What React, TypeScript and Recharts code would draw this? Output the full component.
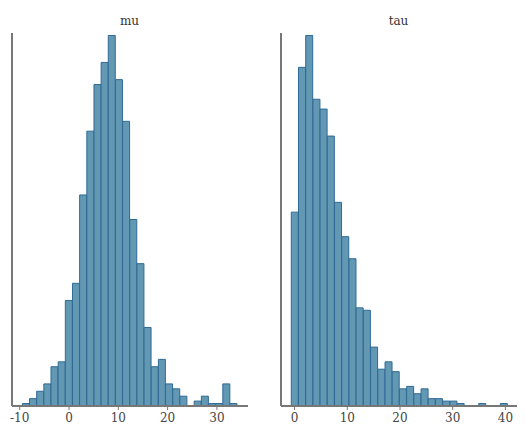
import { BarChart, Bar, XAxis, YAxis } from "recharts";

// bin centres and counts (30 bins per panel)
const muBins = [-8.73, -7.28, -5.83, -4.38, -2.93, -1.47, -0.02, 1.43, 2.88, 4.34, 5.79, 7.24, 8.69, 10.14, 11.59, 13.05, 14.5, 15.95, 17.4, 18.85, 20.31, 21.76, 23.21, 24.66, 26.11, 27.57, 29.02, 30.47, 31.92, 33.37];
const muCounts = [1, 3, 6, 9, 16, 18, 43, 50, 86, 112, 131, 140, 151, 133, 116, 76, 58, 32, 16, 19, 9, 7, 4, 0, 2, 4, 1, 1, 9, 1];

const tauBins = [0.05, 1.42, 2.79, 4.16, 5.52, 6.89, 8.26, 9.63, 11.0, 12.36, 13.73, 15.1, 16.47, 17.84, 19.2, 20.57, 21.94, 23.31, 24.68, 26.04, 27.41, 28.78, 30.15, 31.52, 32.88, 34.25, 35.62, 36.99, 38.36, 39.72];
const tauCounts = [79, 138, 151, 125, 121, 110, 83, 69, 60, 40, 39, 24, 15, 18, 14, 7, 8, 5, 7, 3, 3, 2, 2, 1, 0, 0, 1, 0, 0, 1];

const muTicks = [-10, 0, 10, 20, 30];
const tauTicks = [0, 10, 20, 30, 40];

const muDomain: [number, number] = [-11.56, 36.3];
const tauDomain: [number, number] = [-2.58, 42.2];

const FONT = "DejaVu Serif, Liberation Serif, serif";
const AXIS = "#777";
const FILL = "#6398b3";
const EDGE = "#2f6a96";

interface PanelProps {
  title: string;
  bins: number[];
  counts: number[];
  ticks: number[];
  domain: [number, number];
  left: number;
  width: number;
  margin: { top: number; right: number; left: number; bottom: number };
}

function Panel({ title, bins, counts, ticks, domain, left, width, margin }: PanelProps) {
  const data = bins.map((b, i) => ({ mid: b, count: counts[i] }));
  const plotCenter = margin.left + (width - margin.left - margin.right) / 2;
  return (
    <div style={{ position: "absolute", left, top: 0, width, height: 434, fontFamily: FONT }}>
      <div
        style={{
          position: "absolute",
          top: 14,
          left: plotCenter - 40,
          width: 80,
          textAlign: "center",
          fontFamily: FONT,
          fontSize: 12,
          color: "#333",
        }}
      >
        {title}
      </div>
      <BarChart
        width={width}
        height={434}
        data={data}
        margin={margin}
        barCategoryGap={0}
        barGap={0}
        style={{ fontFamily: FONT }}
      >
        <XAxis
          dataKey="mid"
          type="number"
          domain={domain}
          ticks={ticks}
          allowDataOverflow
          height={28}
          axisLine={{ stroke: AXIS, strokeWidth: 2 }}
          tickLine={{ stroke: AXIS }}
          tickSize={4}
          tickMargin={3}
          tick={{ fontSize: 12, fontFamily: FONT, fill: "#444" }}
          tickFormatter={(v) => String(v)}
        />
        <YAxis
          domain={[0, 152]}
          width={1}
          tick={false}
          tickLine={false}
          axisLine={{ stroke: AXIS, strokeWidth: 2 }}
        />
        <Bar
          dataKey="count"
          fill={FILL}
          stroke={EDGE}
          strokeWidth={1}
          isAnimationActive={false}
        />
      </BarChart>
    </div>
  );
}

export default function App() {
  return (
    <div style={{ position: "absolute", left: 0, top: 0, width: 525, height: 434, background: "#fff" }}>
      <Panel
        title="mu"
        bins={muBins}
        counts={muCounts}
        ticks={muTicks}
        domain={muDomain}
        left={0}
        width={260}
        margin={{ top: 33, left: 11, right: 12, bottom: 0 }}
      />
      <Panel
        title="tau"
        bins={tauBins}
        counts={tauCounts}
        ticks={tauTicks}
        domain={tauDomain}
        left={260}
        width={265}
        margin={{ top: 33, left: 20, right: 8, bottom: 0 }}
      />
    </div>
  );
}
